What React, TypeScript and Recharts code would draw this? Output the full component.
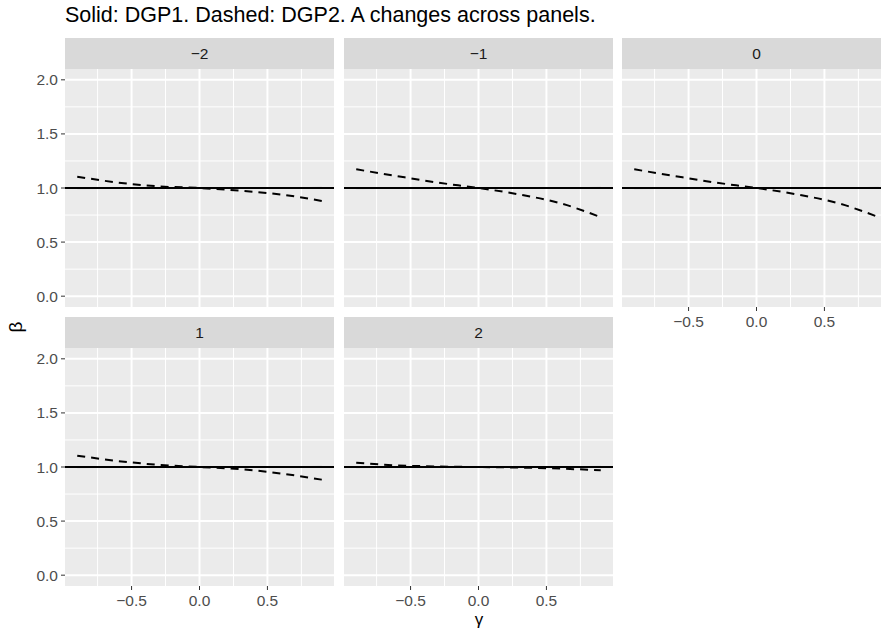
import { LineChart, Line, XAxis, YAxis, CartesianGrid, ReferenceLine } from "recharts"

const gamma = [-0.9, -0.6, -0.3, 0, 0.3, 0.6, 0.9]
const panelLabels = ["−2", "−1", "0", "1", "2"]

// DGP1 stays at ~1 everywhere (drawn faint, under the reference line)
const dgp1 = [0.995, 1.0, 1.0, 1.0, 1.0, 1.0, 1.005]

// DGP2 per panel (A = -2, -1, 0, 1, 2)
const dgp2Am2 = [1.105, 1.05, 1.015, 1.0, 0.975, 0.94, 0.88]
const dgp2Am1 = [1.173, 1.11, 1.05, 1.0, 0.94, 0.86, 0.73]
const dgp2A0 = [1.173, 1.11, 1.05, 1.0, 0.94, 0.86, 0.73]
const dgp2A1 = [1.105, 1.055, 1.02, 1.0, 0.98, 0.94, 0.883]
const dgp2A2 = [1.04, 1.015, 1.005, 1.0, 0.995, 0.985, 0.97]

const dgp2Series = [dgp2Am2, dgp2Am1, dgp2A0, dgp2A1, dgp2A2]

const xTicks = [-0.5, 0, 0.5]
const xMinor = [-0.75, -0.25, 0.25, 0.75]
const yTicks = [0, 0.5, 1, 1.5, 2]
const yMinor = [0.25, 0.75, 1.25, 1.75]

const FONT = "'Liberation Sans', Arial, Helvetica, sans-serif"
const colLeft = [65, 344, 622]
const rowTop = [38, 317]
const STRIP_H = 31
const PW = 269
const PH = 238
const LPAD = 50
const BPAD = 30
const TICK_FS = 15.5

const fmt = (v: number) => v.toFixed(1).replace("-", "−")

function Panel({ idx }: { idx: number }) {
  const col = idx % 3
  const row = Math.floor(idx / 3)
  const showY = col === 0
  const showX = row === 1 || idx === 2
  const left = colLeft[col]
  const top = rowTop[row]
  const data = gamma.map((g, i) => ({ gamma: g, dgp1: dgp1[i], dgp2: dgp2Series[idx][i] }))

  return (
    <>
      <div
        style={{
          position: "absolute",
          left,
          top,
          width: PW,
          height: STRIP_H,
          background: "#D9D9D9",
          color: "#1A1A1A",
          fontSize: TICK_FS,
          lineHeight: `${STRIP_H}px`,
          textAlign: "center",
        }}
      >
        {panelLabels[idx]}
      </div>
      <div style={{ position: "absolute", left: left - LPAD, top: top + STRIP_H }}>
        <LineChart
          width={LPAD + PW}
          height={PH + BPAD}
          data={data}
          margin={{ top: 0, right: 0, left: showY ? LPAD - 40 : LPAD, bottom: showX ? BPAD - 24 : BPAD }}
        >
          <CartesianGrid
            horizontalValues={yMinor}
            verticalValues={xMinor}
            stroke="#FFFFFF"
            strokeWidth={1}
            fill="#EBEBEB"
          />
          <CartesianGrid horizontalValues={yTicks} verticalValues={xTicks} stroke="#FFFFFF" strokeWidth={2} />
          <XAxis
            dataKey="gamma"
            type="number"
            domain={[-0.99, 0.99]}
            ticks={xTicks}
            tickFormatter={fmt}
            hide={!showX}
            height={24}
            axisLine={false}
            tickSize={4}
            tickMargin={5}
            tickLine={{ stroke: "#333333" }}
            tick={{ fill: "#4D4D4D", fontSize: TICK_FS, fontFamily: FONT }}
            allowDataOverflow
          />
          <YAxis
            type="number"
            domain={[-0.1, 2.1]}
            ticks={yTicks}
            tickFormatter={fmt}
            hide={!showY}
            width={40}
            axisLine={false}
            tickSize={4}
            tickMargin={3}
            tickLine={{ stroke: "#333333" }}
            tick={{ fill: "#4D4D4D", fontSize: TICK_FS, fontFamily: FONT }}
            allowDataOverflow
          />
          <Line dataKey="dgp1" type="monotone" stroke="#C8C8C8" strokeWidth={1.5} dot={false} isAnimationActive={false} />
          <ReferenceLine y={1} stroke="#000000" strokeWidth={2} />
          <Line
            dataKey="dgp2"
            type="monotone"
            stroke="#000000"
            strokeWidth={2}
            strokeDasharray="8 6"
            dot={false}
            isAnimationActive={false}
          />
        </LineChart>
      </div>
    </>
  )
}

export default function App() {
  return (
    <div
      style={{
        position: "absolute",
        left: 0,
        top: 0,
        width: 881,
        height: 632,
        overflow: "hidden",
        background: "#FFFFFF",
        fontFamily: FONT,
      }}
    >
      <div style={{ position: "absolute", left: 65, top: 4.5, fontSize: 21.5, lineHeight: 1, color: "#000000", whiteSpace: "nowrap" }}>
        Solid: DGP1. Dashed: DGP2. A changes across panels.
      </div>
      {panelLabels.map((_, i) => (
        <Panel key={i} idx={i} />
      ))}
      <div
        style={{
          position: "absolute",
          left: 14.5,
          top: 327,
          fontSize: 19,
          lineHeight: 1,
          transform: "translate(-50%, -50%) rotate(-90deg)",
        }}
      >
        β
      </div>
      <div
        style={{
          position: "absolute",
          left: 479,
          top: 611,
          fontSize: 17,
          lineHeight: 1,
          transform: "translateX(-50%)",
        }}
      >
        γ
      </div>
    </div>
  )
}
